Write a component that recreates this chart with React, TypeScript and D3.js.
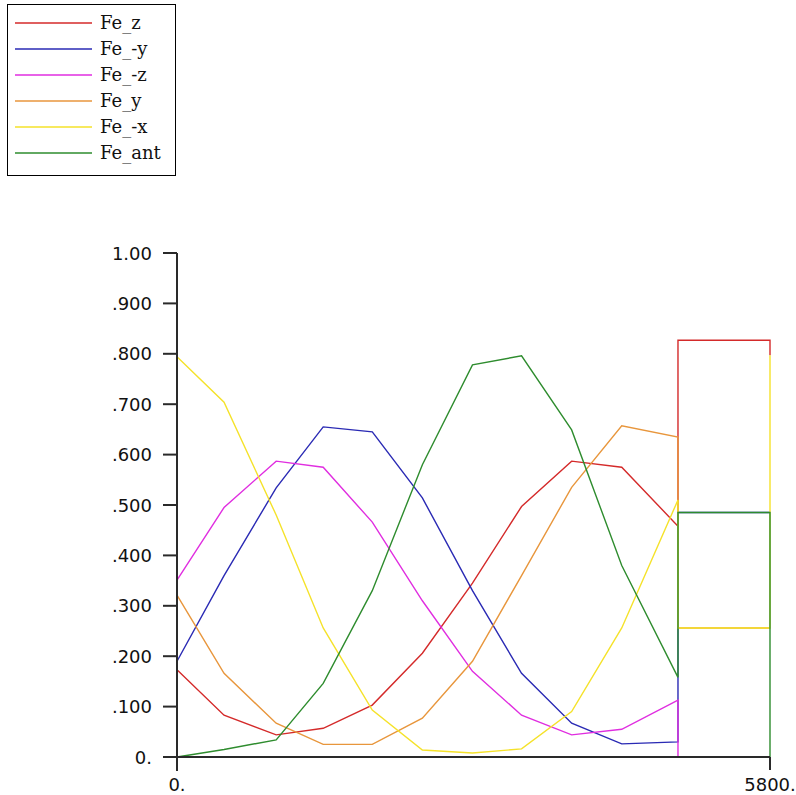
import React from "react";
import * as d3 from "d3";

const xs = [0, 460, 970, 1430, 1910, 2400, 2890, 3370, 3860, 4350, 4900];
const tailX = [4900, 5800, 5800];

const seriesNames = ["Fe_z", "Fe_-y", "Fe_-z", "Fe_y", "Fe_-x", "Fe_ant"];
const seriesColors = ["#d42a2a", "#2a2ab4", "#e02ee0", "#e8963c", "#f5e22a", "#2e8c2e"];

const feZ = [0.173, 0.083, 0.044, 0.057, 0.103, 0.206, 0.345, 0.497, 0.587, 0.575, 0.458];
const feNegY = [0.19, 0.36, 0.534, 0.655, 0.645, 0.514, 0.33, 0.166, 0.067, 0.026, 0.03];
const feNegZ = [0.351, 0.495, 0.587, 0.575, 0.466, 0.31, 0.17, 0.083, 0.044, 0.055, 0.113];
const feY = [0.321, 0.166, 0.067, 0.025, 0.025, 0.077, 0.19, 0.36, 0.535, 0.657, 0.635];
const feNegX = [0.794, 0.704, 0.48, 0.256, 0.093, 0.014, 0.008, 0.016, 0.09, 0.256, 0.51];
const feAnt = [0, 0.015, 0.034, 0.146, 0.33, 0.58, 0.778, 0.796, 0.649, 0.38, 0.158];

const feZTail = [0.827, 0.827, 0.797];
const feNegYTail = [0.485, 0.485, 0.485];
const feNegZTail = [0, 0, 0];
const feYTail = [0.256, 0.256, 0.256];
const feNegXTail = [0.256, 0.256, 0.797];
const feAntTail = [0.485, 0.485, 0];

const seriesValues = [feZ, feNegY, feNegZ, feY, feNegX, feAnt];
const seriesTails = [feZTail, feNegYTail, feNegZTail, feYTail, feNegXTail, feAntTail];

const yTicks = [0, 0.1, 0.2, 0.3, 0.4, 0.5, 0.6, 0.7, 0.8, 0.9, 1.0];
const yTickLabels = ["0.", ".100", ".200", ".300", ".400", ".500", ".600", ".700", ".800", ".900", "1.00"];
const xTicks = [0, 5800];
const xTickLabels = ["0.", "5800."];

export default function App() {
  const x = d3.scaleLinear().domain([0, 5800]).range([177, 770]);
  const y = d3.scaleLinear().domain([0, 1]).range([757, 253]);
  const line = d3
    .line<[number, number]>()
    .x((d) => x(d[0]))
    .y((d) => y(d[1]));

  const axisColor = "#2a2a2a";

  return (
    <svg
      width={796}
      height={795}
      style={{ position: "absolute", left: 0, top: 0, background: "#fff" }}
    >
      <rect x={0} y={0} width={796} height={795} fill="#fff" />
      {/* legend */}
      <rect x={7.5} y={4.5} width={168} height={171} fill="none" stroke="#000" strokeWidth={1} />
      {seriesNames.map((n, i) => {
        const ly = 23 + i * 26;
        return (
          <g key={n}>
            <line x1={15} x2={92} y1={ly} y2={ly} stroke={seriesColors[i]} strokeWidth={1.4} />
            <text
              x={100}
              y={ly + 6}
              fontFamily="DejaVu Serif"
              fontSize={18}
              fill="#111"
            >
              {n}
            </text>
          </g>
        );
      })}

      {/* series */}
      {seriesValues.map((vals, i) => {
        const pts: [number, number][] = xs.map((xv, j) => [xv, vals[j]] as [number, number]);
        seriesTails[i].forEach((v, j) => pts.push([tailX[j], v]));
        return (
          <path
            key={seriesNames[i]}
            d={line(pts) || ""}
            fill="none"
            stroke={seriesColors[i]}
            strokeWidth={1.4}
            strokeLinejoin="miter"
          />
        );
      })}

      {/* y axis */}
      <line x1={x(0)} x2={x(0)} y1={y(1)} y2={y(0) + 14} stroke={axisColor} strokeWidth={2} />
      {yTicks.map((t, i) => (
        <g key={"y" + i}>
          <line x1={x(0) - 14} x2={x(0)} y1={y(t)} y2={y(t)} stroke={axisColor} strokeWidth={2} />
          <text
            x={152}
            y={y(t)}
            textAnchor="end"
            dominantBaseline="central"
            fontFamily="DejaVu Sans"
            fontSize={18}
            fill="#111"
          >
            {yTickLabels[i]}
          </text>
        </g>
      ))}

      {/* x axis */}
      <line x1={x(0) - 14} x2={x(5800)} y1={y(0)} y2={y(0)} stroke={axisColor} strokeWidth={2} />
      {xTicks.map((t, i) => (
        <g key={"x" + i}>
          <line x1={x(t)} x2={x(t)} y1={y(0)} y2={y(0) + 13} stroke={axisColor} strokeWidth={2} />
          <text
            x={x(t)}
            y={791}
            textAnchor="middle"
            fontFamily="DejaVu Sans"
            fontSize={18}
            fill="#111"
          >
            {xTickLabels[i]}
          </text>
        </g>
      ))}
    </svg>
  );
}
